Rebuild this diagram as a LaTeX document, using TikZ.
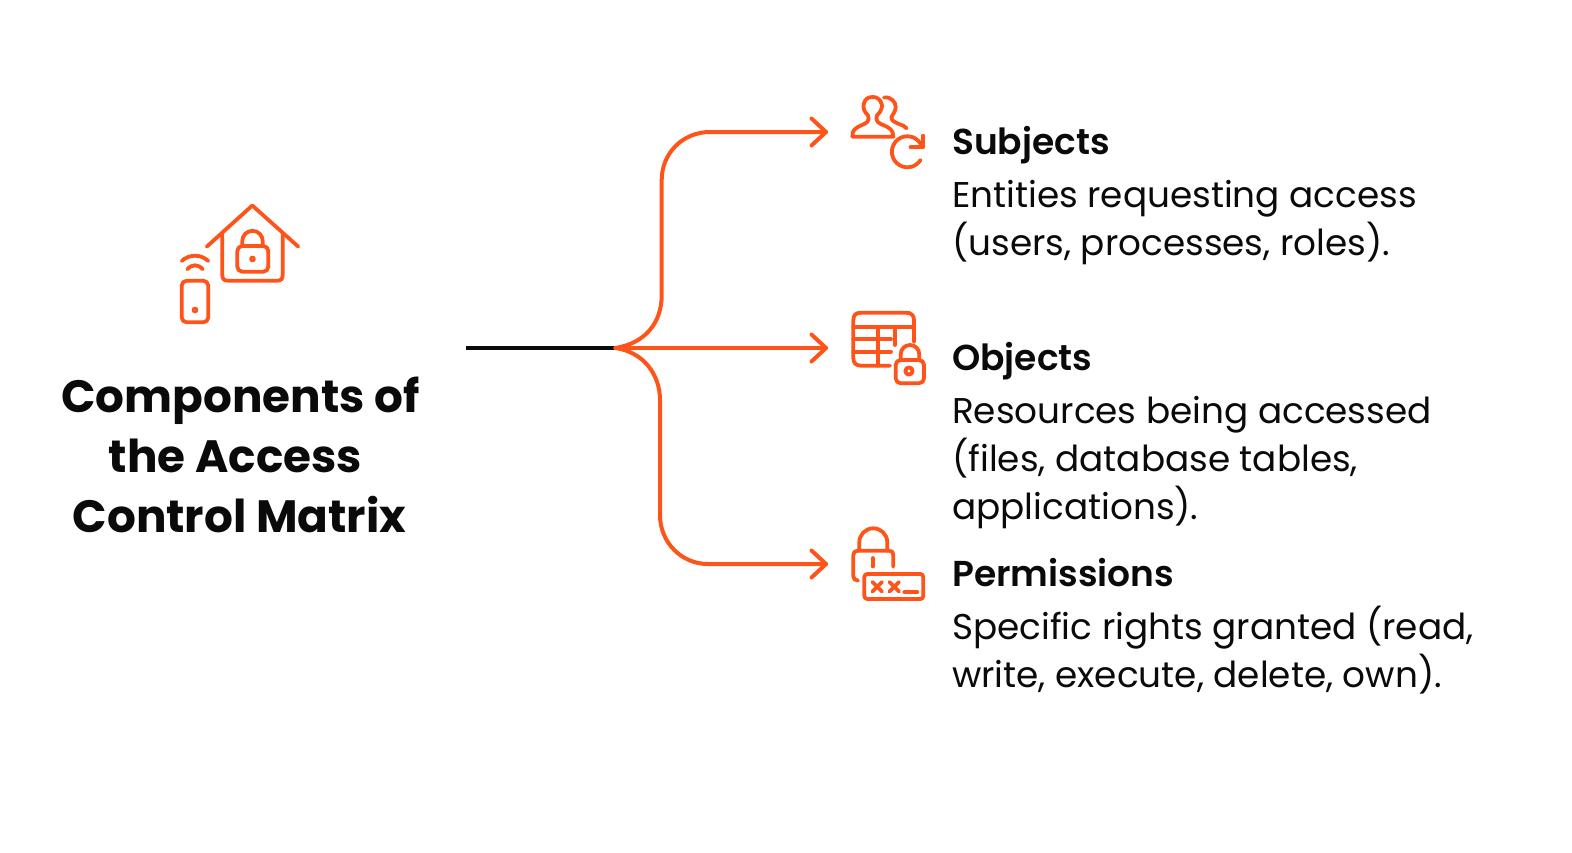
\documentclass[tikz,border=0pt]{standalone}
\usepackage{fontspec}
\setmainfont{Poppins}[BoldFont={Poppins SemiBold}]
\newfontfamily\titlefont{Poppins}
\definecolor{acc}{HTML}{FF5419}
\definecolor{ink}{HTML}{0A0A0A}
\tikzset{
  x=1pt,y=-1pt,
  icon/.style={draw=acc,line width=3.8pt,line cap=round,line join=round,fill=none},
  link/.style={draw=acc,line width=4pt,line cap=round,line join=round},
  titlepart/.style={inner sep=0pt,anchor=base,text=ink,font=\titlefont\fontsize{45.3}{60}\selectfont\bfseries},
  headpart/.style={inner sep=0pt,anchor=base west,text=ink,font=\fontsize{36}{48}\selectfont\bfseries},
  bodypart/.style={inner sep=0pt,anchor=base west,text=ink,font=\fontsize{35.8}{48}\selectfont},
}
\begin{document}
\begin{tikzpicture}
\useasboundingbox (0,0) rectangle (1572,852);
% connectors
\coordinate (start) at (466,348);
\coordinate (hub) at (615.5,348);
\coordinate (tipA) at (826,132);
\coordinate (tipB) at (826,348);
\coordinate (tipC) at (826,564);
\draw[line width=4pt,draw=ink] (start) -- (hub);
\draw[link] (hub) .. controls (646,343) and (661.7,322) .. (661.7,295) -- (661.7,180) .. controls (661.7,153) and (683,132) .. (710,132) -- (tipA);
\draw[link] (hub) -- (tipB);
\draw[link] (hub) .. controls (643,352) and (660,374) .. (660,400) -- (660,515) .. controls (660,542) and (681,564) .. (708,564) -- (tipC);
\foreach \t in {tipA,tipB,tipC}{
  \draw[link] ([shift={(-14.5,-13.5)}]\t) -- (\t) -- ([shift={(-14.5,13.5)}]\t);
}
% house icon
\draw[icon] (206.7,246.7) -- (252.3,205.5) -- (298.3,246.7);
\draw[icon] (222.3,233) -- (222.3,274.7) .. controls (222.3,279) and (224,280.7) .. (228,280.7) -- (277,280.7) .. controls (281,280.7) and (282.7,279) .. (282.7,274.7) -- (282.7,233);
\draw[icon,rounded corners=5pt] (237.3,246) rectangle (268.3,271.7);
\draw[icon] (242.3,246) -- (242.3,241) arc[start angle=180,end angle=360,radius=10.2] -- (262.7,246);
\draw[icon,line width=2.6pt] (252.5,259) circle[radius=2];
% phone
\draw[icon,rounded corners=5pt] (181.7,280.7) rectangle (208.3,322.3);
\draw[icon,line width=2.6pt] (195,310) circle[radius=2];
\draw[icon] (181.7,261) .. controls (189,254) and (201,254) .. (208.3,261);
\draw[icon] (187.3,269.3) .. controls (192,264) and (198,264) .. (202.7,269.3);
% subjects icon
\draw[icon] (852.3,136.7) -- (893.3,136.7) .. controls (893.3,130) and (890,128) .. (883,125) .. controls (879,123) and (875,122) .. (877,115.5) .. controls (882,110.5) and (882.5,106) .. (881.7,104) .. controls (880,99) and (877,97) .. (872.7,97) .. controls (868,97) and (865,99) .. (863.7,104) .. controls (863,108) and (864,111.5) .. (868,115.5) .. controls (870,122) and (866,123) .. (862,125) .. controls (855,128) and (852.3,130) .. (852.3,136.7);
\draw[icon] (884,97.5) .. controls (891,96.5) and (895.7,102) .. (895.7,107) .. controls (895.7,111) and (893,114) .. (891.5,117) .. controls (891,121) and (895,122) .. (899,124) .. controls (902,125) and (904.5,126) .. (906.7,128.3);
\draw[icon] (920.5,160) arc[start angle=32,end angle=330,radius=15.5];
\draw[icon] (923.3,135.7) -- (923.3,147.3) -- (910.5,147.3);
% objects icon
\draw[icon] (914,342) -- (914,320) .. controls (914,315) and (911,312.7) .. (906,312.7) -- (861,312.7) .. controls (856,312.7) and (853.3,315) .. (853.3,320) -- (853.3,358) .. controls (853.3,363) and (856,365.7) .. (861,365.7) -- (890,365.7);
\draw[icon] (853.3,326.7) -- (914,326.7);
\draw[icon] (853.3,339.3) -- (891,339.3);
\draw[icon] (853.3,351.7) -- (891,351.7);
\draw[icon] (877.7,326.7) -- (877.7,365.7);
\draw[icon] (895,326.7) -- (895,345);
\draw[icon,rounded corners=5pt] (895.7,360) rectangle (924,383.3);
\draw[icon] (900.7,360) -- (900.7,354.3) arc[start angle=180,end angle=360,radius=9.3] -- (919.3,360);
\draw[icon] (909,371) circle[radius=3.6];
% permissions icon
\draw[icon] (858,580.5) .. controls (855,580.5) and (853.3,579) .. (853.3,576) -- (853.3,555) .. controls (853.3,552) and (855,550.7) .. (858,550.7) -- (889,550.7) .. controls (892,550.7) and (893.3,552) .. (893.3,555) -- (893.3,566.7);
\draw[icon] (859.3,550.7) -- (859.3,542.3) arc[start angle=180,end angle=360,radius=14] -- (887.3,550.7);
\draw[icon] (872.7,558) -- (872.7,566.5);
\draw[icon,rounded corners=3pt] (864.3,574) rectangle (923.3,599);
\draw[icon] (872.5,582) -- (882,591.5) (882,582) -- (872.5,591.5);
\draw[icon] (889.5,582) -- (899,591.5) (899,582) -- (889.5,591.5);
\draw[icon] (904.3,592.3) -- (917.3,592.3);
% title
\node[titlepart] (t1) at (240.5,412) {Components of};
\node[titlepart] (t2) at (235.5,472) {the Access};
\node[titlepart] (t3) at (239.5,532) {Control Matrix};
% labels
\node[headpart] (h1) at (952,154) {Subjects};
\node[bodypart] (b1a) at (952,207) {Entities requesting access};
\node[bodypart] (b1b) at (952,255.5) {(users, processes, roles).};
\node[headpart] (h2) at (952,370.5) {Objects};
\node[bodypart] (b2a) at (952,423.5) {Resources being accessed};
\node[bodypart] (b2b) at (952,471.5) {(files, database tables,};
\node[bodypart] (b2c) at (952,519.5) {applications).};
\node[headpart] (h3) at (952,586) {Permissions};
\node[bodypart] (b3a) at (952,639) {Specific rights granted (read,};
\node[bodypart] (b3b) at (952,687) {write, execute, delete, own).};
\end{tikzpicture}
\end{document}
